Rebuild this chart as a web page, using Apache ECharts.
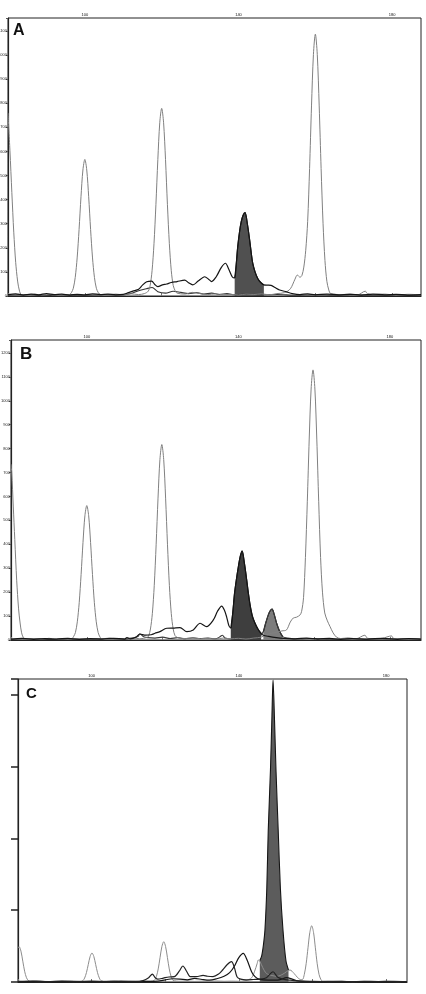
<!DOCTYPE html>
<html>
<head>
<meta charset="utf-8">
<script src="https://cdn.jsdelivr.net/npm/echarts@6/dist/echarts.min.js"></script>
<style>
  html, body { margin: 0; padding: 0; background: #fff; }
  #chart { width: 426px; height: 994px; }
</style>
</head>
<body>
<div id="chart"></div>
<script>
// size axis (top) and labelled ticks
var sizeTicks = [100, 140, 180]
var panelNames = ['A', 'B', 'C']

// ---- panel A ----
var aStandard = [[80,760],[80.5,605],[81,430],[81.5,265],[82,140],[82.5,62],[83,20],[83.5,6],[85,3],[87,7],[89,4],[91,6],[93,3],[95,5],
  [96,6],[96.5,14],[97,32],[97.5,77],[98,158],[98.5,276],[99,412],[99.5,523],[100,567],[100.5,523],[101,412],[101.5,276],[102,158],[102.5,77],[103,32],[103.5,14],[104,6],
  [106,4],[108,8],[110,5],[112,9],[114,6],[115.5,10],[116.5,20],
  [117,44],[117.5,105],[118,217],[118.5,379],[119,566],[119.5,719],[120,779],[120.5,719],[121,566],[121.5,379],[122,217],[122.5,105],[123,44],[123.5,22],[124,12],
  [126,8],[128,15],[130,10],[132,6],[134,9],[136,5],[138,7],[140,4],[142,8],[144,6],[146,9],[148,5],[150,10],[152,14],[153.5,30],
  [154.7,70],[155.3,87],[156,78],[156.5,85],[157,120],[157.5,190],[158,310],[158.5,529],[159,789],[159.5,1003],[160,1087],[160.5,1003],[161,789],[161.5,529],[162,302],[162.5,147],[163,61],[163.5,25],[164,10],
  [167,6],[169,8],[171,5],[173,20],[173.5,10],[175,6],[178,8],[181,4],[184,7],[187.5,5]]
var aTrace1 = [[80,6],[82,9],[84,4],[86,8],[88,5],[90,10],[92,6],[94,8],[96,4],[98,7],[100,5],[102,9],[104,6],[106,8],[108,5],[110,7],
  [111,12],[112.5,20],[114,28],[115,45],[116.1,59],[117.4,62],[118.2,48],[119,39],[120.2,46],[121.3,50],[122.5,56],[124,60],[126,66],[127,55],[128.1,46],
  [129.5,62],[131.2,80],[132.2,70],[133,60],[134.2,80],[135.5,118],[136.6,136],[137.5,110],[138.4,79],[139,75],
  [139.4,130],[139.8,205],[140.3,270],[140.7,308],[141.2,335],[141.7,346],[142.3,300],[142.9,232],[143.3,180],[143.7,136],[144.3,100],[145,73],[145.8,56],[146.6,46],
  [147.5,45],[148.5,44],[149.5,35],[150.7,25],[152.5,17],[154,10],[156,6],[158,9],[160,5],[163,8],[166,5],[169,7],[172,4],[175,8],[178,5],[181,7],[184,4],[187.5,6]]
var aTrace2 = [[80,3],[85,5],[90,2],[95,4],[100,3],[105,5],[110,4],[112,10],[114,22],[116,30],[117.5,35],[119,18],[121,12],[123,20],[125,15],[127,10],
  [129,14],[131,8],[133,12],[135,6],[137,10],[139,5],[142,8],[145,4],[150,6],[155,3],[160,5],[165,3],[170,5],[175,3],[180,4],[187.5,3]]
var aPeak = [[139,75],[139.4,130],[139.8,205],[140.3,270],[140.7,308],[141.2,335],[141.7,346],[142.3,300],[142.9,232],[143.3,180],[143.7,136],[144.3,100],[145,73],[145.8,56],[146.6,46]]

// ---- panel B ----
var bStandard = [[80,735],[80.2,700],[80.6,560],[81,420],[81.5,250],[82,130],[82.4,71],[82.8,30],[83.2,12],[83.8,4],[86,6],[88,3],[90,7],[92,4],[94,6],[96,5],
  [96.5,14],[97,31],[97.5,76],[98,156],[98.5,274],[99,408],[99.5,519],[100,562],[100.5,519],[101,408],[101.5,274],[102,156],[102.5,76],[103,31],[103.5,12],[104,5],
  [106,8],[108,4],[110,6],[112,9],[114,5],[115.8,10],
  [116.3,16],[116.8,46],[117.3,110],[117.8,227],[118.3,398],[118.8,593],[119.3,754],[119.8,817],[120.3,754],[120.8,593],[121.3,398],[121.8,227],[122.3,110],[122.8,46],[123.3,18],[124,10],
  [126,6],[128,9],[130,5],[132,7],[134,4],[136,8],[138,5],[140,7],[142,4],[144,8],[146,12],[148,25],[150,32],[151.5,38],[152.7,42],[153.7,75],[154.5,92],[155.3,95],[156.3,105],
  [156.7,120],[157.2,177],[157.7,345],[158.2,580],[158.7,840],[159.2,1049],[159.7,1129],[160.2,1049],[160.7,840],[161.2,580],[161.7,345],[162.2,200],[162.8,113],[163.5,80],[164.2,56],[165,30],[165.9,12],
  [167,6],[169,9],[171,5],[173.4,20],[174,8],[176,5],[178,7],[180.4,17],[181,6],[184,4],[188.2,5]]
var bTrace1 = [[80,4],[83,7],[86,3],[89,6],[92,4],[95,7],[98,3],[101,6],[104,4],[107,7],[110,4],[110.6,10],[111.5,5],[113,12],[114,25],[115.5,20],[117,22],[118,28],
  [119.3,35],[121.1,49],[122.8,50],[124.6,52],[126.4,35],[128.1,42],[129.9,70],[131.6,56],[133.4,84],[134.5,120],[135.6,142],[136.3,125],[136.9,97],[137.5,60],[138,50],
  [138.5,110],[139,196],[139.5,255],[140,306],[140.5,350],[141,372],[141.6,320],[142.2,251],[142.6,200],[143.1,146],[143.7,100],[144.4,70],[145.2,45],[146,28],
  [146.6,20],[148,15],[150,10],[152,7],[155,5],[158,8],[161,4],[164,7],[167,3],[170,6],[174,4],[178,7],[182,3],[185,6],[188.2,4]]
var bTrace2 = [[80,3],[85,5],[90,2],[95,4],[100,3],[105,6],[110,3],[112,8],[113.5,15],[114,25],[115,14],[116,10],[118,8],[120,12],[122,6],[124,10],[126,5],[128,9],
  [130,6],[132,8],[134,5],[135,12],[135.8,20],[136.5,8],[138,4],[140,3],[143,5],[145,8],
  [146.6,35],[147.2,70],[147.9,105],[148.4,122],[148.9,129],[149.5,105],[150.1,70],[150.8,40],[151.7,14],
  [153,8],[156,4],[160,6],[165,3],[170,5],[175,3],[180,5],[188.2,3]]
var bPeak1 = [[138,50],[138.5,110],[139,196],[139.5,255],[140,306],[140.5,350],[141,372],[141.6,320],[142.2,251],[142.6,200],[143.1,146],[143.7,100],[144.4,70],[145.2,45],[146,28]]
var bPeak2 = [[146.6,35],[147.2,70],[147.9,105],[148.4,122],[148.9,129],[149.5,105],[150.1,70],[150.8,40],[151.7,14]]

// ---- panel C ----
var cStandard = [[80,470],[80.3,492],[80.8,430],[81.3,290],[81.8,150],[82.3,60],[82.8,20],[83.3,8],[86,10],[89,6],[92,12],[95,8],[97,10],
  [97.6,18],[98.1,55],[98.6,131],[99.1,245],[99.6,356],[100.1,404],[100.6,356],[101.1,245],[101.6,131],[102.1,55],[102.6,18],
  [104,8],[106,12],[108,6],[110,10],[112,8],[114,12],[116,10],
  [117.1,25],[117.6,76],[118.1,182],[118.6,341],[119.1,495],[119.6,561],[120.1,495],[120.6,341],[121.1,182],[121.6,76],[122.1,25],
  [124,10],[126,14],[128,8],[130,12],[132,10],[134,14],[136,10],[138,12],[140,10],[142,20],[143.5,60],[144.3,150],[145,260],[145.3,306],[145.8,280],
  [146.5,200],[147.5,120],[149,90],[150.5,80],[152,110],[153.9,167],[155,120],[156,60],[156.8,35],
  [157.3,35],[157.8,106],[158.3,255],[158.8,476],[159.3,692],[159.8,784],[160.3,692],[160.8,476],[161.3,255],[161.8,106],[162.3,35],[162.8,10],
  [165,6],[168,10],[171,5],[174,9],[177,6],[180,10],[183,5],[185.7,8]]
var cTrace1 = [[80,8],[84,14],[88,6],[92,12],[96,7],[100,13],[104,6],[108,11],[112,8],[114,20],[115.5,60],[116.5,111],[117.3,60],[118,40],[119.5,55],[121,70],
  [122.5,74],[123.8,150],[124.8,223],[125.8,150],[126.8,74],[128.5,74],[130.3,93],[131.5,80],[133,75],[134.5,110],[135.6,167],[136.8,240],[138,283],[138.8,200],
  [139.5,74],[140.5,40],[142,30],[144,35],[145.7,40],[147.5,60],[149.3,143],[150.5,70],[152,40],[154,25],[156,15],[158,10],[162,6],[166,10],[170,5],[174,9],[178,6],[182,10],[185.7,6]]
var cTrace2 = [[80,5],[85,10],[90,4],[95,8],[100,5],[105,9],[110,4],[114,8],[118,12],[120,30],[122,45],[124,40],[126,30],[128,50],[130,35],[132,25],[134,45],[136,80],
  [137.5,130],[138.8,220],[140,340],[141.2,400],[142.3,300],[143.5,140],[144.4,74],[145.5,40],[148,25],[151,30],[153,60],[154.5,40],[156,15],[160,8],[165,4],[170,7],[175,3],[180,6],[185.7,4]]
var cPeak = [[145.7,300],[146.2,360],[146.7,520],[147.1,724],[147.6,1300],[148,2117],[148.6,2954],[149,3700],[149.3,4206],[149.7,3650],[150.1,2954],[150.7,2117],[151.3,1300],[152,724],[152.8,300],[153.5,167]]

var chart = echarts.init(document.getElementById('chart'))

var grids = [
  { left: 8, top: 18, width: 413, height: 278 },
  { left: 11, top: 340, width: 410, height: 300 },
  { left: 18, top: 679, width: 389, height: 303 }
]
var xMax = [187.5, 188.2, 185.7]
var yMax = [1154, 1254, 4220]
var yStep = [100, 100, 1000]

function line(idx, data, color, w) {
  return {
    type: 'line', xAxisIndex: idx, yAxisIndex: idx, data: data,
    symbol: 'none', smooth: 0.3, silent: true,
    lineStyle: { color: color, width: w || 1 }
  }
}
function peak(idx, data, fill) {
  return {
    type: 'line', xAxisIndex: idx, yAxisIndex: idx, data: data,
    symbol: 'none', smooth: 0.3, silent: true,
    lineStyle: { color: '#151515', width: 1.1 },
    areaStyle: { color: fill, opacity: 1 }
  }
}

var option = {
  animation: false,
  backgroundColor: '#fff',
  grid: grids.map(function (g) {
    return Object.assign({ show: true, borderColor: '#222', borderWidth: 1, outerBoundsMode: 'none', containLabel: false }, g)
  }),
  xAxis: grids.map(function (g, i) {
    return {
      type: 'value', gridIndex: i, position: 'top',
      min: 80, max: xMax[i], interval: 20,
      axisLine: { show: true, lineStyle: { color: '#222', width: 1.2 } },
      axisTick: { show: true, length: 3, lineStyle: { color: '#777' } },
      axisLabel: {
        fontSize: 4, color: '#111', margin: 1, showMaxLabel: false,
        formatter: function (v) { return sizeTicks.indexOf(v) > -1 ? String(v) : '' }
      },
      splitLine: { show: false }
    }
  }),
  yAxis: grids.map(function (g, i) {
    return {
      type: 'value', gridIndex: i,
      min: 0, max: yMax[i], interval: yStep[i],
      axisLine: { show: true, lineStyle: { color: '#222', width: 1.2 } },
      axisTick: i < 2 ? { show: true, length: 2, lineStyle: { color: '#555' } }
                      : { show: true, length: 7, lineStyle: { color: '#222', width: 1.5 } },
      minorTick: { show: i < 2, splitNumber: 2, length: 1, lineStyle: { color: '#888' } },
      axisLabel: {
        show: i < 2, fontSize: 4, color: '#222', margin: 1, showMaxLabel: false,
        formatter: function (v) { return v % yStep[i] === 0 ? String(v) : '' }
      },
      splitLine: { show: false }
    }
  }),
  graphic: [
    { type: 'text', left: 13, top: 23, style: { text: panelNames[0], font: 'bold 16px "Liberation Sans", Arial, sans-serif', fill: '#111' } },
    { type: 'text', left: 20, top: 346, style: { text: panelNames[1], font: 'bold 17px "Liberation Sans", Arial, sans-serif', fill: '#111' } },
    { type: 'text', left: 26, top: 686, style: { text: panelNames[2], font: 'bold 15px "Liberation Sans", Arial, sans-serif', fill: '#111' } }
  ],
  series: [
    peak(0, aPeak, '#505050'),
    line(0, aTrace2, '#333', 1.1),
    line(0, aStandard, '#808080'),
    line(0, aTrace1, '#151515', 1.2),

    peak(1, bPeak1, '#3e3e3e'),
    peak(1, bPeak2, '#7c7c7c'),
    line(1, bTrace2, '#3a3a3a', 1.1),
    line(1, bStandard, '#808080'),
    line(1, bTrace1, '#151515', 1.2),

    peak(2, cPeak, '#5c5c5c'),
    line(2, cStandard, '#8c8c8c'),
    line(2, cTrace2, '#151515', 1.2),
    line(2, cTrace1, '#222', 1.2)
  ]
}

chart.setOption(option)
</script>
</body>
</html>
